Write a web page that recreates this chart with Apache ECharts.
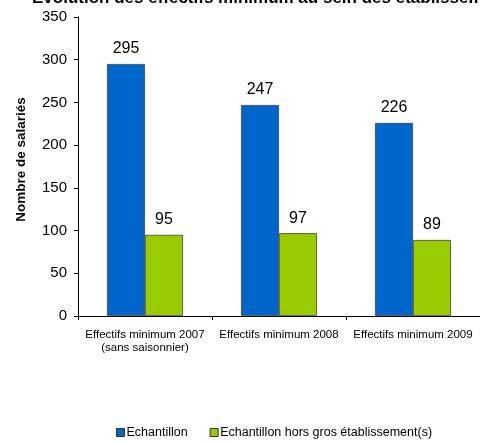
<!DOCTYPE html>
<html><head><meta charset="utf-8">
<script src="https://cdn.jsdelivr.net/npm/echarts@6/dist/echarts.min.js"></script>
<style>html,body{margin:0;padding:0;background:#fff}#c{width:480px;height:445px}</style>
</head><body><div id="c"></div>
<script>
const categories = ["Effectifs minimum 2007\n(sans saisonnier)", "Effectifs minimum 2008", "Effectifs minimum 2009"];
const echantillon = [295, 247, 226];
const horsGros = [95, 97, 89];
const seriesNames = ["Echantillon", "Echantillon hors gros établissement(s)"];
const yTicks = {min: 0, max: 350, interval: 50};

const chart = echarts.init(document.getElementById('c'));
const font = 'Liberation Sans, Arial, sans-serif';
const lbl = {show: true, position: 'top', color: '#000', fontSize: 16, fontFamily: font, distance: 7};
chart.setOption({
  animation: false,
  title: {text: 'Evolution des effectifs minimum au sein des établissements', left: 27, top: -15,
    textStyle: {fontSize: 17, fontWeight: 'bold', fontFamily: font, color: '#000'}},
  grid: {left: 78, top: 17, width: 405, height: 299},
  legend: {bottom: 1, left: 111, itemWidth: 8, itemHeight: 8, itemGap: 22,
    textStyle: {fontSize: 12.5, fontFamily: font, color: '#000', padding: [0,0,0,-3]},
    data: seriesNames.map(n => ({name: n, icon: 'rect', itemStyle: {borderColor: '#333', borderWidth: 1}}))},
  xAxis: {type: 'category', data: categories,
    axisLine: {lineStyle: {color: '#000', width: 1}},
    axisTick: {show: true, length: 4, lineStyle: {color: '#000'}},
    axisLabel: {fontSize: 11.5, fontFamily: font, color: '#000', margin: 12, lineHeight: 13, interval: 0}},
  yAxis: {type: 'value', min: yTicks.min, max: yTicks.max, interval: yTicks.interval,
    name: 'Nombre de salariés', nameLocation: 'middle', nameGap: 50,
    nameTextStyle: {fontSize: 13.5, fontWeight: 'bold', fontFamily: font, color: '#000', padding: [0,0,0,14]},
    splitLine: {show: false},
    axisLine: {show: true, lineStyle: {color: '#000'}},
    axisTick: {show: true, length: 4, lineStyle: {color: '#000'}},
    axisLabel: {fontSize: 15, fontFamily: font, color: '#000', margin: 11}},
  series: [
    {name: seriesNames[0], type: 'bar', data: echantillon, barWidth: 38, barGap: '0%',
      itemStyle: {color: '#0066CC', borderColor: '#444', borderWidth: 0.8}, label: lbl},
    {name: seriesNames[1], type: 'bar', data: horsGros, barWidth: 38, barGap: '0%',
      itemStyle: {color: '#99CC00', borderColor: '#444', borderWidth: 0.8}, label: lbl}
  ]
});
</script></body></html>
